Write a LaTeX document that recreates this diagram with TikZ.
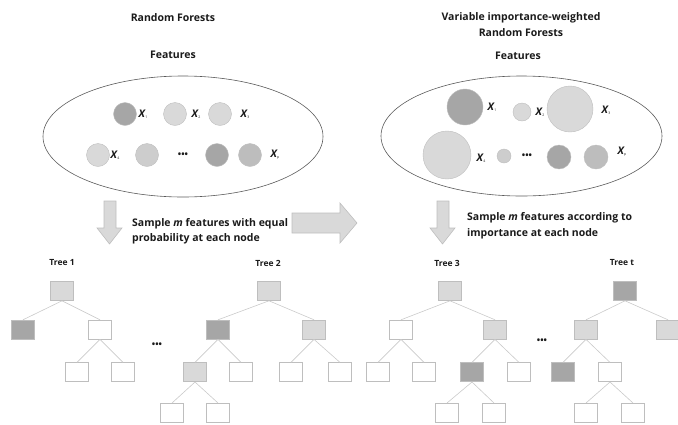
\documentclass[tikz,border=0pt]{standalone}
\usepackage{fontspec}
\setmainfont{Open Sans}
\usetikzlibrary{positioning,shapes.geometric}
\definecolor{ink}{HTML}{1A1A1A}
\definecolor{outline}{HTML}{5A5A5A}
\definecolor{darkfill}{HTML}{A6A6A6}
\definecolor{midfill}{HTML}{BDBDBD}
\definecolor{softfill}{HTML}{CDCDCD}
\definecolor{lightfill}{HTML}{D9D9D9}
\definecolor{edgegray}{HTML}{CACACA}
\definecolor{boxline}{HTML}{BEBEBE}
\newcommand{\featx}[1]{\textbf{\textit{X}}\kern-0.6pt\raisebox{-1.2pt}{\fontsize{3.5}{4}\selectfont #1}}
\tikzset{
  title label/.style={
    font=\bfseries\fontsize{10.5}{16}\selectfont,
    text=ink,
    align=center,
  },
  note label/.style={
    font=\bfseries\fontsize{10.5}{15.5}\selectfont,
    text=ink,
    align=left,
    anchor=west,
    inner sep=0pt,
  },
  tree label/.style={
    font=\bfseries\fontsize{8.5}{9}\selectfont,
    text=ink,
  },
  var label/.style={
    font=\fontsize{10.5}{10}\selectfont,
    text=ink,
    inner sep=0pt,
  },
  more dots/.style={
    font=\bfseries\fontsize{9}{9}\selectfont,
    text=ink,
    inner sep=0pt,
  },
  pool/.style={
    ellipse,
    draw=outline,
    line width=0.6pt,
    inner sep=0pt,
  },
  feature/.style={
    circle,
    minimum size=#1,
    inner sep=0pt,
    draw=boxline,
    line width=0.4pt,
  },
  split node/.style={
    rectangle,
    minimum width=23pt,
    minimum height=19pt,
    inner sep=0pt,
    draw=boxline,
    line width=0.6pt,
  },
  empty node/.style={split node, fill=white},
  light node/.style={split node, fill=lightfill},
  dark node/.style={split node, fill=darkfill},
  branch/.style={edgegray, line width=0.6pt},
  block arrow/.style={fill=lightfill, draw=boxline, line width=0.6pt},
}

\begin{document}
\begin{tikzpicture}[x=1pt, y=-1pt]
  \useasboundingbox (0,0) rectangle (678,424);

  % --- Titles ---
  \node[title label] (title l) at (173,18) {Random Forests};
  \node[title label] (title r) at (521,25) {Variable importance-weighted\\Random Forests};
  \node[title label] (feat l) at (173,55) {Features};
  \node[title label] (feat r) at (518,56) {Features};

  % --- Feature pools ---
  \node[pool, minimum width=280pt, minimum height=121pt] (pool l) at (183,136.5) {};
  \node[pool, minimum width=281pt, minimum height=120pt] (pool r) at (521.5,136) {};

  % --- Left pool: equal weights ---
  \node[feature=23pt, fill=darkfill] (l1) at (125,114) {};
  \node[feature=23pt, fill=lightfill] (l2) at (175,114) {};
  \node[feature=23pt, fill=lightfill] (l3) at (220,114) {};
  \node[feature=23pt, fill=lightfill] (l4) at (98,155) {};
  \node[feature=23pt, fill=softfill] (l5) at (147,155) {};
  \node[feature=23pt, fill=darkfill] (l6) at (217,155) {};
  \node[feature=23pt, fill=midfill] (l7) at (250,155) {};
  \node[more dots] (ldots) at (183,155) {\textbullet\textbullet\textbullet};
  \node[var label] (lx1) at (143,114) {\featx{1}};
  \node[var label] (lx2) at (196,114) {\featx{2}};
  \node[var label] (lx3) at (245,114) {\featx{3}};
  \node[var label] (lx4) at (115,155) {\featx{4}};
  \node[var label] (lxp) at (275,155) {\featx{p}};

  % --- Right pool: importance weights ---
  \node[feature=36pt, fill=darkfill] (r1) at (465,107) {};
  \node[feature=18pt, fill=lightfill] (r2) at (522,112) {};
  \node[feature=46pt, fill=lightfill] (r3) at (570,109) {};
  \node[feature=48pt, fill=lightfill] (r4) at (447,155) {};
  \node[feature=14pt, fill=softfill] (r5) at (504,156) {};
  \node[feature=24pt, fill=darkfill] (r6) at (559,157) {};
  \node[feature=24pt, fill=midfill] (r7) at (596,157) {};
  \node[more dots] (rdots) at (527,156) {\textbullet\textbullet\textbullet};
  \node[var label] (rx1) at (492,107) {\featx{1}};
  \node[var label] (rx2) at (540,112) {\featx{2}};
  \node[var label] (rx3) at (606,110) {\featx{3}};
  \node[var label] (rx4) at (481,158) {\featx{4}};
  \node[var label] (rxp) at (622,152) {\featx{p}};

  % --- Arrows ---
  \draw[block arrow] (104,201) -- (116,201) -- (116,228) -- (122,228) -- (109.5,244)
    -- (97,228) -- (104,228) -- cycle;
  \draw[block arrow] (437,201) -- (449,201) -- (449,228) -- (455,228) -- (442.5,244)
    -- (430,228) -- (437,228) -- cycle;
  \draw[block arrow] (292,213) -- (340,213) -- (340,203) -- (357,223) -- (340,243)
    -- (340,233) -- (292,233) -- cycle;

  \node[note label] (note l) at (132,231) {Sample \textit{m} features with equal\\probability at each node};
  \node[note label] (note r) at (467,225.5) {Sample \textit{m} features according to\\importance at each node};

  % --- Tree 1 ---
  \node[tree label] (lab1) at (62,263) {Tree 1};
  \node[light node] (t1) at (62,291) {};
  \node[dark node, below=19pt of t1, xshift=-39pt] (t1a) {};
  \node[empty node, below=19pt of t1, xshift=38pt] (t1b) {};
  \node[empty node, below=23pt of t1b, xshift=-23pt] (t1ba) {};
  \node[empty node, below=23pt of t1b, xshift=23pt] (t1bb) {};

  % --- Tree 2 ---
  \node[tree label] (lab2) at (268,263) {Tree 2};
  \node[light node] (t2) at (269,291) {};
  \node[dark node, below=19pt of t2, xshift=-51pt] (t2a) {};
  \node[light node, below=19pt of t2, xshift=45pt] (t2b) {};
  \node[light node, below=23pt of t2a, xshift=-23pt] (t2aa) {};
  \node[empty node, below=23pt of t2a, xshift=23pt] (t2ab) {};
  \node[empty node, below=23pt of t2b, xshift=-23pt] (t2ba) {};
  \node[empty node, below=23pt of t2b, xshift=26pt] (t2bb) {};
  \node[empty node, below=21pt of t2aa, xshift=-23pt] (t2aaa) {};
  \node[empty node, below=21pt of t2aa, xshift=23pt] (t2aab) {};

  % --- Tree 3 ---
  \node[tree label] (lab3) at (447,263) {Tree 3};
  \node[light node] (t3) at (450,291) {};
  \node[empty node, below=19pt of t3, xshift=-49pt] (t3a) {};
  \node[light node, below=19pt of t3, xshift=45pt] (t3b) {};
  \node[empty node, below=23pt of t3a, xshift=-23pt] (t3aa) {};
  \node[empty node, below=23pt of t3a, xshift=23pt] (t3ab) {};
  \node[dark node, below=23pt of t3b, xshift=-23pt] (t3ba) {};
  \node[empty node, below=23pt of t3b, xshift=24pt] (t3bb) {};
  \node[empty node, below=21pt of t3ba, xshift=-25pt] (t3baa) {};
  \node[empty node, below=21pt of t3ba, xshift=22pt] (t3bab) {};

  % --- Tree t ---
  \node[tree label] (labt) at (622,263) {Tree t};
  \node[dark node] (tt) at (625,291) {};
  \node[light node, below=19pt of tt, xshift=-39pt] (tta) {};
  \node[light node, below=19pt of tt, xshift=43pt] (ttb) {};
  \node[dark node, below=23pt of tta, xshift=-23pt] (ttaa) {};
  \node[empty node, below=23pt of tta, xshift=24pt] (ttab) {};
  \node[empty node, below=21pt of ttab, xshift=-24pt] (ttaba) {};
  \node[empty node, below=21pt of ttab, xshift=23pt] (ttabb) {};

  \node[more dots] (dots12) at (157,345) {\textbullet\textbullet\textbullet};
  \node[more dots] (dots3t) at (542,341) {\textbullet\textbullet\textbullet};

  % --- Branches ---
  \foreach \p/\c in {t1/t1a, t1/t1b, t1b/t1ba, t1b/t1bb,
                     t2/t2a, t2/t2b, t2a/t2aa, t2a/t2ab, t2b/t2ba, t2b/t2bb,
                     t2aa/t2aaa, t2aa/t2aab,
                     t3/t3a, t3/t3b, t3a/t3aa, t3a/t3ab, t3b/t3ba, t3b/t3bb,
                     t3ba/t3baa, t3ba/t3bab,
                     tt/tta, tt/ttb, tta/ttaa, tta/ttab, ttab/ttaba, ttab/ttabb} {
    \draw[branch] (\p.south) -- (\c.north);
  }

\end{tikzpicture}
\end{document}
